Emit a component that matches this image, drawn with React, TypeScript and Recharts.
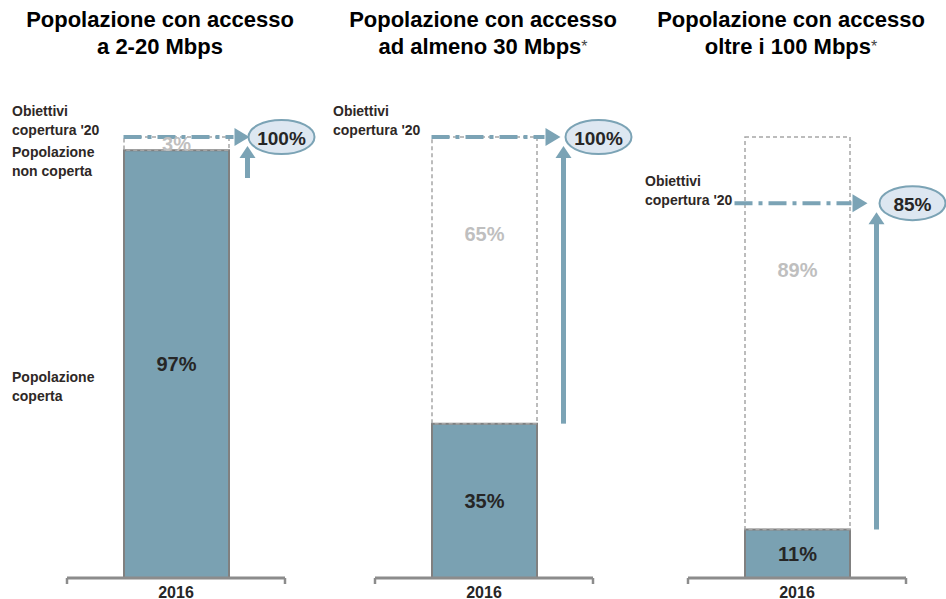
import React from "react";
import {
  BarChart,
  Bar,
  XAxis,
  YAxis,
  LabelList,
  ReferenceLine,
  ReferenceArea,
} from "recharts";

const YEARS = ["2016"];
const TITLE_TOP = [
  "Popolazione con accesso",
  "Popolazione con accesso",
  "Popolazione con accesso",
];
const TITLE_BOTTOM = ["a 2-20 Mbps", "ad almeno 30 Mbps", "oltre i 100 Mbps"];
const TITLE_STAR = [false, true, true];
const COVERED = [97, 35, 11];
const UNCOVERED = [3, 65, 89];
const TARGET = [100, 100, 85];

const FONT = "'Liberation Sans', Arial, sans-serif";
const BAR = "#7aa1b2";
const ARROW = "#7ba3b5";
const TEXT = "#262626";

// layout of one panel
const PANEL_LEFT = [0, 308, 621];
const CHART_W = 340;
const PLOT_LEFT = 67;
const PLOT_W = 218;
const BAR_W = 105;
const PLOT_TOP = 137;
const AXIS_Y = 578;
const LINE_START = [0, 0, -10];
const UP_DX = [124, 132, 132];
const TIP_DX = [126, 129, 123];
const ELLIPSE_DX = [158, 167, 168];

const barLeftOf = (plotX: number) => plotX + (PLOT_W - BAR_W) / 2;

// eslint-disable-next-line @typescript-eslint/no-explicit-any
function YearTick({ x, payload }: any) {
  const half = PLOT_W / 2;
  return (
    <g>
      <line x1={x - half} y1={AXIS_Y} x2={x - half} y2={AXIS_Y + 6} stroke="#8c8c8c" strokeWidth={2.5} />
      <line x1={x + half} y1={AXIS_Y} x2={x + half} y2={AXIS_Y + 6} stroke="#8c8c8c" strokeWidth={2.5} />
      <text
        x={x}
        y={AXIS_Y + 14}
        textAnchor="middle"
        dominantBaseline="central"
        fontFamily={FONT}
        fontWeight={700}
        fontSize={16}
        fill={TEXT}
      >
        {payload.value}
      </text>
    </g>
  );
}

// eslint-disable-next-line @typescript-eslint/no-explicit-any
const coveredLabel = (p: any) => (
  <text
    x={p.x + p.width / 2}
    y={p.y + p.height / 2}
    textAnchor="middle"
    dominantBaseline="central"
    fontFamily={FONT}
    fontWeight={700}
    fontSize={20}
    fill={TEXT}
  >
    {p.value}%
  </text>
);

// eslint-disable-next-line @typescript-eslint/no-explicit-any
const uncoveredLabel = (p: any) => (
  <text
    x={p.x + p.width / 2}
    y={p.y + p.height * (p.height > 60 ? 0.34 : 0.5)}
    textAnchor="middle"
    dominantBaseline="central"
    fontFamily={FONT}
    fontWeight={700}
    fontSize={20}
    fill="#bfbfbf"
  >
    {p.value}%
  </text>
);

function Panel({ i }: { i: number }) {
  const data = [{ year: YEARS[0], covered: COVERED[i], uncovered: UNCOVERED[i] }];

  // vertical arrow from the covered bar up to the target
  // eslint-disable-next-line @typescript-eslint/no-explicit-any
  const upArrow = (p: any) => {
    const ax = barLeftOf(p.x) + UP_DX[i];
    const top = p.y + 9;
    const bottom = Math.max(p.y + p.height, top + 32);
    return (
      <g>
        <rect x={ax - 2.5} y={top + 10} width={5} height={bottom - top - 10} fill={ARROW} />
        <polygon points={`${ax - 8},${top + 12} ${ax + 8},${top + 12} ${ax},${top}`} fill={ARROW} />
      </g>
    );
  };

  // dashed target line, arrowhead and the ellipse with the target value
  // eslint-disable-next-line @typescript-eslint/no-explicit-any
  const targetLine = (p: any) => {
    const y = p.y1;
    const bx = barLeftOf(p.x1);
    const tip = bx + TIP_DX[i];
    const cx = bx + ELLIPSE_DX[i];
    return (
      <g>
        <line
          x1={bx + LINE_START[i]}
          y1={y}
          x2={tip - 16}
          y2={y}
          stroke={ARROW}
          strokeWidth={4}
          strokeDasharray="18 6 4 6"
        />
        <polygon points={`${tip - 15},${y - 9} ${tip - 15},${y + 9} ${tip},${y}`} fill={ARROW} />
        <ellipse cx={cx} cy={y} rx={33} ry={17} fill="#dde7f1" stroke={ARROW} strokeWidth={2} />
        <text
          x={cx}
          y={y + 1}
          textAnchor="middle"
          dominantBaseline="central"
          fontFamily={FONT}
          fontWeight={700}
          fontSize={19}
          fill={TEXT}
        >
          {TARGET[i]}%
        </text>
      </g>
    );
  };

  return (
    <div style={{ position: "absolute", left: PANEL_LEFT[i], top: 0 }}>
      <BarChart
        width={CHART_W}
        height={599}
        data={data}
        margin={{ top: PLOT_TOP, right: CHART_W - PLOT_LEFT - PLOT_W, bottom: 0, left: PLOT_LEFT }}
      >
        <YAxis hide domain={[0, 100]} />
        <XAxis
          dataKey="year"
          height={599 - AXIS_Y}
          axisLine={{ stroke: "#8c8c8c", strokeWidth: 3 }}
          tickLine={false}
          tick={<YearTick />}
        />
        <Bar
          dataKey="covered"
          stackId="s"
          barSize={BAR_W}
          fill={BAR}
          stroke="#808080"
          strokeWidth={2}
          isAnimationActive={false}
        >
          <LabelList dataKey="covered" content={coveredLabel} />
        </Bar>
        <Bar
          dataKey="uncovered"
          stackId="s"
          barSize={BAR_W}
          fill="none"
          stroke="#a6a6a6"
          strokeWidth={1.5}
          strokeDasharray="4 3"
          isAnimationActive={false}
        >
          <LabelList dataKey="uncovered" content={uncoveredLabel} />
        </Bar>
        <ReferenceArea y1={COVERED[i]} y2={TARGET[i]} shape={upArrow} ifOverflow="visible" />
        <ReferenceLine y={TARGET[i]} shape={targetLine} ifOverflow="visible" />
      </BarChart>
    </div>
  );
}

const sideText: React.CSSProperties = {
  position: "absolute",
  fontFamily: FONT,
  fontWeight: 700,
  fontSize: 14,
  lineHeight: "19px",
  color: "#2e2826",
  whiteSpace: "nowrap",
};

const titleCenters = [160, 483, 791];

export default function App() {
  return (
    <div
      style={{
        position: "absolute",
        left: 0,
        top: 0,
        width: 946,
        height: 599,
        overflow: "hidden",
        background: "#fff",
      }}
    >
      {[0, 1, 2].map((i) => (
        <Panel key={i} i={i} />
      ))}
      {[0, 1, 2].map((i) => (
        <div
          key={"t" + i}
          style={{
            position: "absolute",
            left: titleCenters[i] - 160,
            width: 320,
            top: 6,
            textAlign: "center",
            fontFamily: FONT,
            fontWeight: 700,
            fontSize: 22,
            lineHeight: "27px",
            color: "#000",
          }}
        >
          {TITLE_TOP[i]}
          <br />
          {TITLE_BOTTOM[i]}
          {TITLE_STAR[i] && (
            <span style={{ fontWeight: 400, fontSize: 16, verticalAlign: "top", color: "#444" }}>*</span>
          )}
        </div>
      ))}
      <div style={{ ...sideText, left: 12, top: 102 }}>
        Obiettivi
        <br />
        copertura '20
        <br />
        <span style={{ display: "inline-block", marginTop: 3 }}>Popolazione</span>
        <br />
        non coperta
      </div>
      <div style={{ ...sideText, left: 12, top: 368 }}>
        Popolazione
        <br />
        coperta
      </div>
      <div style={{ ...sideText, left: 333, top: 102 }}>
        Obiettivi
        <br />
        copertura '20
      </div>
      <div style={{ ...sideText, left: 645, top: 172 }}>
        Obiettivi
        <br />
        copertura '20
      </div>
    </div>
  );
}
